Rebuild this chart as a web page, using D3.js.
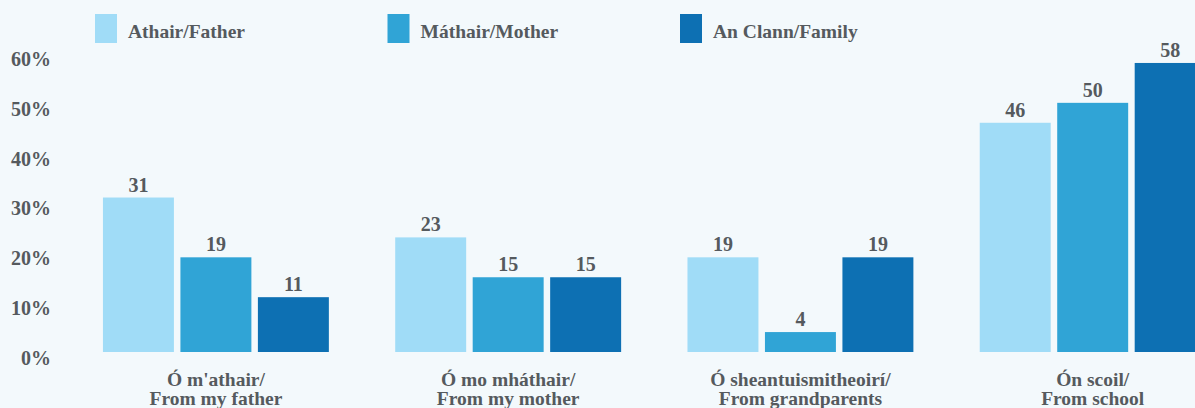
<!DOCTYPE html>
<html>
<head>
<meta charset="utf-8">
<script src="https://cdn.jsdelivr.net/npm/d3@7"></script>
<style>
  body { margin: 0; background: #f3f9fc; }
  svg { display: block; }
  svg text { font-family: "Liberation Serif", "DejaVu Serif", serif !important; font-weight: bold; fill: #555a5e; }
</style>
</head>
<body>
<script>
      // data
      var categories = ["Ó m'athair/|From my father", "Ó mo mháthair/|From my mother",
                        "Ó sheantuismitheoirí/|From grandparents", "Ón scoil/|From school"];
      var seriesNames = ["Athair/Father", "Máthair/Mother", "An Clann/Family"];
      var father = [31, 23, 19, 46];
      var mother = [19, 15, 4, 50];
      var family = [11, 15, 19, 58];
      var yTicks = [0, 10, 20, 30, 40, 50, 60];

      var w = 1195;
      var h = 408;
      var colors = ["#a0dcf7", "#30a4d6", "#0d70b3"];

      var svg = d3.select("body")
            .append("svg")
            .attr("width", w)
            .attr("height", h);

      svg.append("rect")
          .attr("width", w)
          .attr("height", h)
          .attr("fill", "#f3f9fc");

      // scales
      var y = d3.scaleLinear()
          .domain([0, 60])
          .range([352, 53]);

      var x0 = d3.scaleBand()
          .domain(categories)
          .range([36.6, 1272])
          .padding(0.227);

      var x1 = d3.scaleBand()
          .domain(seriesNames)
          .range([0, x0.bandwidth()])
          .paddingInner(0.084)
          .paddingOuter(0);

      var color = d3.scaleOrdinal()
          .domain(seriesNames)
          .range(colors);

      // y axis labels
      var yAxis = d3.axisLeft(y)
          .tickValues(yTicks)
          .tickSize(0)
          .tickPadding(0)
          .tickFormat(function(d) { return d + "%"; });

      var ya = svg.append("g")
          .attr("transform", "translate(51,6)")
          .call(yAxis);
      ya.attr("font-family", null).attr("font-size", null);
      ya.select(".domain").remove();
      ya.selectAll("text")
          .attr("font-size", 20);

      // bars
      var rows = categories.map(function(c, i) {
        return { cat: c, vals: [father[i], mother[i], family[i]] };
      });

      var groups = svg.selectAll("g.group")
          .data(rows)
          .enter().append("g")
          .attr("class", "group")
          .attr("transform", function(d) { return "translate(" + x0(d.cat) + ",0)"; });

      var cells = groups.selectAll("g.cell")
          .data(function(d) {
            return d.vals.map(function(v, j) { return { key: seriesNames[j], value: v }; });
          })
          .enter().append("g");

      cells.append("rect")
          .attr("x", function(d) { return x1(d.key); })
          .attr("y", function(d) { return y(d.value); })
          .attr("width", x1.bandwidth())
          .attr("height", function(d) { return y(0) - y(d.value); })
          .attr("fill", function(d) { return color(d.key); });

      cells.append("text")
          .attr("x", function(d) { return x1(d.key) + x1.bandwidth() / 2; })
          .attr("y", function(d) { return y(d.value) - 6; })
          .attr("text-anchor", "middle")
          .attr("font-size", 20)
          .text(function(d) { return d.value; });

      // category labels
      var xl = svg.append("g");
      categories.forEach(function(c) {
        var lines = c.split("|");
        var t = xl.append("text")
            .attr("text-anchor", "middle")
            .attr("font-size", 19.5)
            .attr("x", x0(c) + x0.bandwidth() / 2)
            .attr("y", 386);
        lines.forEach(function(l, k) {
          t.append("tspan")
              .attr("x", x0(c) + x0.bandwidth() / 2)
              .attr("dy", k ? 19 : 0)
              .text(l);
        });
      });

      // legend
      var legend = svg.selectAll("g.legend")
          .data(seriesNames)
          .enter().append("g")
          .attr("class", "legend")
          .attr("transform", function(d, i) { return "translate(" + (95 + i * 292.5) + ",14)"; });

      legend.append("rect")
          .attr("width", 22)
          .attr("height", 29)
          .attr("fill", function(d) { return color(d); });

      legend.append("text")
          .attr("x", 33)
          .attr("y", 24)
          .attr("font-size", 19.5)
          .text(function(d) { return d; });
</script>
</body>
</html>
